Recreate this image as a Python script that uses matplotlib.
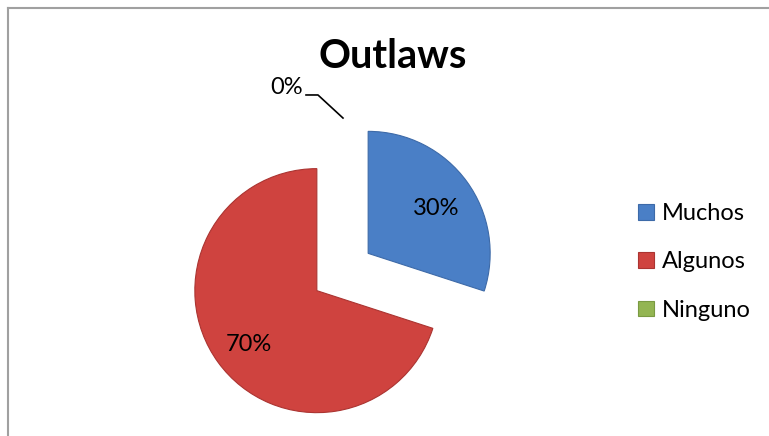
import matplotlib.pyplot as plt
from matplotlib.lines import Line2D

plt.rcParams["font.family"] = ["Lato", "DejaVu Sans"]

labels = ["Muchos", "Algunos", "Ninguno"]
values = [30, 70, 0]
colors = ["#4a7fc6", "#cf433f", "#93b552"]
edge_colors = ["#3d6aa8", "#ab3431", "#7a9a42"]
title = "Outlaws"

W, H = 769, 436
R_PX = 122.0
CX, CY = 342.5, 272.0  # pie centre in pixels (from top)

fig = plt.figure(figsize=(W / 100, H / 100), dpi=100)
fig.patch.set_facecolor("white")
ax = fig.add_axes([0, 0, 1, 1])


def _pct(p):
    return "" if p < 0.5 else f"{p:.0f}%"


wedges, _, autotexts = ax.pie(
    values,
    colors=colors,
    explode=[0.26] * len(values),
    startangle=90,
    counterclock=False,
    autopct=_pct,
    pctdistance=0.69,
    radius=1.0,
    textprops={"fontsize": 17, "color": "black"},
    wedgeprops={"linewidth": 0.8},
)
for w, ec, v in zip(wedges, edge_colors, values):
    w.set_edgecolor(ec)
    if v == 0:
        w.set_linewidth(0)
# nudge the percentage labels a few pixels down
for t in autotexts:
    x, y = t.get_position()
    t.set_position((x, y - 0.035))

ax.set_xlim(-CX / R_PX, (W - CX) / R_PX)
ax.set_ylim(-(H - CY) / R_PX, CY / R_PX)
ax.set_aspect("auto")
ax.axis("off")

# zero-value slice label with leader line
zero_idx = values.index(0)
ax.plot([-0.299, -0.201, 0.004], [1.451, 1.451, 1.262],
        color="black", linewidth=1.2, clip_on=False)
ax.text(-0.455, 1.51, f"{values[zero_idx]}%", fontsize=17, ha="center", va="center")

fig.text(393 / W, 1 - 56 / H, title, fontsize=28.5, fontweight="bold",
         ha="center", va="center")

leg = ax.legend(
    wedges,
    labels,
    loc="center left",
    bbox_to_anchor=(617 / W, 1 - 262 / H),
    bbox_transform=fig.transFigure,
    frameon=False,
    fontsize=17,
    handlelength=0.65,
    handleheight=0.65,
    handletextpad=0.35,
    labelspacing=1.16,
)
for h in leg.legend_handles:
    h.set_linewidth(0.8)

# chart-area border (only top and left edges visible)
fig.add_artist(Line2D([7.5 / W, 7.5 / W], [0, 1 - 8 / H], transform=fig.transFigure,
                      color="#a0a0a0", linewidth=1.5))
fig.add_artist(Line2D([7.5 / W, 1], [1 - 8 / H, 1 - 8 / H], transform=fig.transFigure,
                      color="#a0a0a0", linewidth=1.5))

fig.savefig("out.png", dpi=100)
